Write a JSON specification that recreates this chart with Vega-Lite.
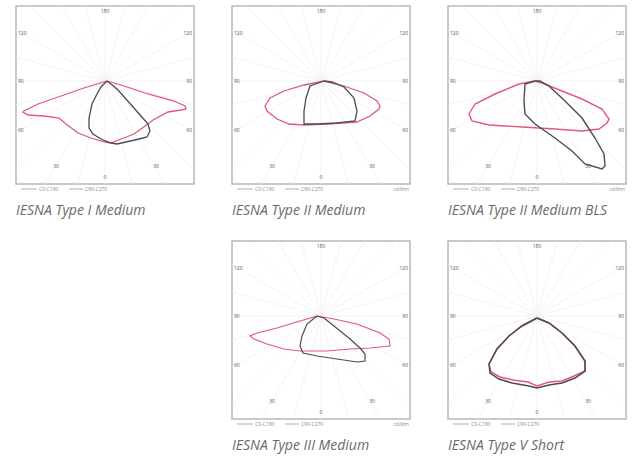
{
  "$schema": "https://vega.github.io/schema/vega-lite/v6.json",
  "padding": {"left": 15, "top": 5, "right": 0, "bottom": 0},
  "background": "white",
  "config": {
    "view": {"stroke": "#b8b8b8", "strokeWidth": 1.5},
    "title": {"orient": "bottom", "anchor": "start", "font": "Open Sans", "fontStyle": "italic", "fontWeight": "normal", "fontSize": 14, "color": "#6a6a6a", "offset": 12}
  },
  "datasets": {
    "grid": [
      {"ox": 0, "oy": 0, "gx": 0, "gy": 150}, {"ox": 0, "oy": 0, "gx": 38.8, "gy": 144.9}, {"ox": 0, "oy": 0, "gx": 75, "gy": 129.9}, {"ox": 0, "oy": 0, "gx": 106.1, "gy": 106.1},
      {"ox": 0, "oy": 0, "gx": 129.9, "gy": 75}, {"ox": 0, "oy": 0, "gx": 144.9, "gy": 38.8}, {"ox": 0, "oy": 0, "gx": 150, "gy": 0}, {"ox": 0, "oy": 0, "gx": 144.9, "gy": -38.8},
      {"ox": 0, "oy": 0, "gx": 129.9, "gy": -75}, {"ox": 0, "oy": 0, "gx": 106.1, "gy": -106.1}, {"ox": 0, "oy": 0, "gx": 75, "gy": -129.9}, {"ox": 0, "oy": 0, "gx": 38.8, "gy": -144.9},
      {"ox": 0, "oy": 0, "gx": 0, "gy": -150}, {"ox": 0, "oy": 0, "gx": -38.8, "gy": -144.9}, {"ox": 0, "oy": 0, "gx": -75, "gy": -129.9}, {"ox": 0, "oy": 0, "gx": -106.1, "gy": -106.1},
      {"ox": 0, "oy": 0, "gx": -129.9, "gy": -75}, {"ox": 0, "oy": 0, "gx": -144.9, "gy": -38.8}, {"ox": 0, "oy": 0, "gx": -150, "gy": 0}, {"ox": 0, "oy": 0, "gx": -144.9, "gy": 38.8},
      {"ox": 0, "oy": 0, "gx": -129.9, "gy": 75}, {"ox": 0, "oy": 0, "gx": -106.1, "gy": 106.1}, {"ox": 0, "oy": 0, "gx": -75, "gy": 129.9}, {"ox": 0, "oy": 0, "gx": -38.8, "gy": 144.9}
    ],
    "labels": [
      {"t": "180", "lx": 0, "ly": 70, "s": "c"},
      {"t": "120", "lx": -87, "ly": 48, "s": "l"},
      {"t": "120", "lx": 87, "ly": 48, "s": "r"},
      {"t": "90", "lx": -87, "ly": 0, "s": "l"},
      {"t": "90", "lx": 87, "ly": 0, "s": "r"},
      {"t": "60", "lx": -87, "ly": -49, "s": "l"},
      {"t": "60", "lx": 87, "ly": -49, "s": "r"},
      {"t": "30", "lx": -49, "ly": -85, "s": "c"},
      {"t": "30", "lx": 51, "ly": -85, "s": "c"},
      {"t": "0", "lx": 0, "ly": -96, "s": "c"}
    ],
    "legend": [
      {"t": "C0-C180", "lx": -66, "ly": -108, "s": "l"},
      {"t": "C90-C270", "lx": -20, "ly": -108, "s": "l"},
      {"t": "cd/klm", "lx": 88, "ly": -108, "s": "r"}
    ],
    "legendLines": [
      {"c": "C0-C180", "a": -84, "b": -68, "ly": -108},
      {"c": "C90-C270", "a": -36, "b": -22, "ly": -108}
    ],
    "curves": [
      {"p": "1", "c": "C0-C180", "i": 0, "x": 2, "y": 0},
      {"p": "1", "c": "C0-C180", "i": 1, "x": -21, "y": -7},
      {"p": "1", "c": "C0-C180", "i": 2, "x": -44, "y": -15},
      {"p": "1", "c": "C0-C180", "i": 3, "x": -67, "y": -23},
      {"p": "1", "c": "C0-C180", "i": 4, "x": -81, "y": -30},
      {"p": "1", "c": "C0-C180", "i": 5, "x": -82, "y": -31},
      {"p": "1", "c": "C0-C180", "i": 6, "x": -77, "y": -34},
      {"p": "1", "c": "C0-C180", "i": 7, "x": -61, "y": -35},
      {"p": "1", "c": "C0-C180", "i": 8, "x": -46, "y": -37},
      {"p": "1", "c": "C0-C180", "i": 9, "x": -39, "y": -43},
      {"p": "1", "c": "C0-C180", "i": 10, "x": -27, "y": -52},
      {"p": "1", "c": "C0-C180", "i": 11, "x": -14, "y": -57},
      {"p": "1", "c": "C0-C180", "i": 12, "x": 0, "y": -61},
      {"p": "1", "c": "C0-C180", "i": 13, "x": 6, "y": -62},
      {"p": "1", "c": "C0-C180", "i": 14, "x": 16, "y": -58},
      {"p": "1", "c": "C0-C180", "i": 15, "x": 29, "y": -53},
      {"p": "1", "c": "C0-C180", "i": 16, "x": 43, "y": -43},
      {"p": "1", "c": "C0-C180", "i": 17, "x": 48, "y": -39},
      {"p": "1", "c": "C0-C180", "i": 18, "x": 63, "y": -31},
      {"p": "1", "c": "C0-C180", "i": 19, "x": 76, "y": -29},
      {"p": "1", "c": "C0-C180", "i": 20, "x": 81, "y": -28},
      {"p": "1", "c": "C0-C180", "i": 21, "x": 80, "y": -25},
      {"p": "1", "c": "C0-C180", "i": 22, "x": 69, "y": -20},
      {"p": "1", "c": "C0-C180", "i": 23, "x": 43, "y": -13},
      {"p": "1", "c": "C0-C180", "i": 24, "x": 16, "y": -4},
      {"p": "1", "c": "C0-C180", "i": 25, "x": 2, "y": 0},

      {"p": "1", "c": "C90-C270", "i": 0, "x": 2, "y": 0},
      {"p": "1", "c": "C90-C270", "i": 1, "x": -4, "y": -6},
      {"p": "1", "c": "C90-C270", "i": 2, "x": -8, "y": -13},
      {"p": "1", "c": "C90-C270", "i": 3, "x": -13, "y": -23},
      {"p": "1", "c": "C90-C270", "i": 4, "x": -16, "y": -37},
      {"p": "1", "c": "C90-C270", "i": 5, "x": -16, "y": -47},
      {"p": "1", "c": "C90-C270", "i": 6, "x": -12, "y": -53},
      {"p": "1", "c": "C90-C270", "i": 7, "x": -4, "y": -58},
      {"p": "1", "c": "C90-C270", "i": 8, "x": 6, "y": -62},
      {"p": "1", "c": "C90-C270", "i": 9, "x": 12, "y": -63},
      {"p": "1", "c": "C90-C270", "i": 10, "x": 21, "y": -61},
      {"p": "1", "c": "C90-C270", "i": 11, "x": 34, "y": -58},
      {"p": "1", "c": "C90-C270", "i": 12, "x": 42, "y": -56},
      {"p": "1", "c": "C90-C270", "i": 13, "x": 45, "y": -50},
      {"p": "1", "c": "C90-C270", "i": 14, "x": 43, "y": -43},
      {"p": "1", "c": "C90-C270", "i": 15, "x": 36, "y": -35},
      {"p": "1", "c": "C90-C270", "i": 16, "x": 29, "y": -27},
      {"p": "1", "c": "C90-C270", "i": 17, "x": 21, "y": -18},
      {"p": "1", "c": "C90-C270", "i": 18, "x": 13, "y": -9},
      {"p": "1", "c": "C90-C270", "i": 19, "x": 6, "y": -3},
      {"p": "1", "c": "C90-C270", "i": 20, "x": 2, "y": 0},

      {"p": "2", "c": "C0-C180", "i": 0, "x": 3, "y": 0},
      {"p": "2", "c": "C0-C180", "i": 1, "x": -17, "y": -4},
      {"p": "2", "c": "C0-C180", "i": 2, "x": -37, "y": -10},
      {"p": "2", "c": "C0-C180", "i": 3, "x": -51, "y": -17},
      {"p": "2", "c": "C0-C180", "i": 4, "x": -56, "y": -25},
      {"p": "2", "c": "C0-C180", "i": 5, "x": -54, "y": -30},
      {"p": "2", "c": "C0-C180", "i": 6, "x": -44, "y": -38},
      {"p": "2", "c": "C0-C180", "i": 7, "x": -32, "y": -43},
      {"p": "2", "c": "C0-C180", "i": 8, "x": -17, "y": -44},
      {"p": "2", "c": "C0-C180", "i": 9, "x": 6, "y": -43},
      {"p": "2", "c": "C0-C180", "i": 10, "x": 36, "y": -41},
      {"p": "2", "c": "C0-C180", "i": 11, "x": 49, "y": -35},
      {"p": "2", "c": "C0-C180", "i": 12, "x": 58, "y": -28},
      {"p": "2", "c": "C0-C180", "i": 13, "x": 59, "y": -25},
      {"p": "2", "c": "C0-C180", "i": 14, "x": 56, "y": -20},
      {"p": "2", "c": "C0-C180", "i": 15, "x": 43, "y": -12},
      {"p": "2", "c": "C0-C180", "i": 16, "x": 23, "y": -5},
      {"p": "2", "c": "C0-C180", "i": 17, "x": 3, "y": 0},

      {"p": "2", "c": "C90-C270", "i": 0, "x": 3, "y": 0},
      {"p": "2", "c": "C90-C270", "i": 1, "x": -11, "y": -5},
      {"p": "2", "c": "C90-C270", "i": 2, "x": -15, "y": -17},
      {"p": "2", "c": "C90-C270", "i": 3, "x": -17, "y": -30},
      {"p": "2", "c": "C90-C270", "i": 4, "x": -17, "y": -43},
      {"p": "2", "c": "C90-C270", "i": 5, "x": -4, "y": -43},
      {"p": "2", "c": "C90-C270", "i": 6, "x": 16, "y": -42},
      {"p": "2", "c": "C90-C270", "i": 7, "x": 34, "y": -40},
      {"p": "2", "c": "C90-C270", "i": 8, "x": 36, "y": -30},
      {"p": "2", "c": "C90-C270", "i": 9, "x": 33, "y": -17},
      {"p": "2", "c": "C90-C270", "i": 10, "x": 23, "y": -6},
      {"p": "2", "c": "C90-C270", "i": 11, "x": 11, "y": -1},
      {"p": "2", "c": "C90-C270", "i": 12, "x": 3, "y": 0},

      {"p": "3", "c": "C0-C180", "i": 0, "x": -2, "y": 0},
      {"p": "3", "c": "C0-C180", "i": 1, "x": -18, "y": -3},
      {"p": "3", "c": "C0-C180", "i": 2, "x": -42, "y": -13},
      {"p": "3", "c": "C0-C180", "i": 3, "x": -62, "y": -23},
      {"p": "3", "c": "C0-C180", "i": 4, "x": -68, "y": -33},
      {"p": "3", "c": "C0-C180", "i": 5, "x": -65, "y": -40},
      {"p": "3", "c": "C0-C180", "i": 6, "x": -48, "y": -44},
      {"p": "3", "c": "C0-C180", "i": 7, "x": -15, "y": -46},
      {"p": "3", "c": "C0-C180", "i": 8, "x": 18, "y": -48},
      {"p": "3", "c": "C0-C180", "i": 9, "x": 45, "y": -50},
      {"p": "3", "c": "C0-C180", "i": 10, "x": 62, "y": -48},
      {"p": "3", "c": "C0-C180", "i": 11, "x": 70, "y": -42},
      {"p": "3", "c": "C0-C180", "i": 12, "x": 72, "y": -38},
      {"p": "3", "c": "C0-C180", "i": 13, "x": 65, "y": -28},
      {"p": "3", "c": "C0-C180", "i": 14, "x": 45, "y": -18},
      {"p": "3", "c": "C0-C180", "i": 15, "x": 25, "y": -10},
      {"p": "3", "c": "C0-C180", "i": 16, "x": 5, "y": -2},
      {"p": "3", "c": "C0-C180", "i": 17, "x": -2, "y": 0},

      {"p": "3", "c": "C90-C270", "i": 0, "x": -2, "y": 0},
      {"p": "3", "c": "C90-C270", "i": 1, "x": -12, "y": -3},
      {"p": "3", "c": "C90-C270", "i": 2, "x": -13, "y": -20},
      {"p": "3", "c": "C90-C270", "i": 3, "x": -12, "y": -33},
      {"p": "3", "c": "C90-C270", "i": 4, "x": -2, "y": -43},
      {"p": "3", "c": "C90-C270", "i": 5, "x": 18, "y": -57},
      {"p": "3", "c": "C90-C270", "i": 6, "x": 35, "y": -70},
      {"p": "3", "c": "C90-C270", "i": 7, "x": 48, "y": -83},
      {"p": "3", "c": "C90-C270", "i": 8, "x": 65, "y": -88},
      {"p": "3", "c": "C90-C270", "i": 9, "x": 68, "y": -85},
      {"p": "3", "c": "C90-C270", "i": 10, "x": 67, "y": -73},
      {"p": "3", "c": "C90-C270", "i": 11, "x": 58, "y": -57},
      {"p": "3", "c": "C90-C270", "i": 12, "x": 45, "y": -37},
      {"p": "3", "c": "C90-C270", "i": 13, "x": 28, "y": -20},
      {"p": "3", "c": "C90-C270", "i": 14, "x": 12, "y": -5},
      {"p": "3", "c": "C90-C270", "i": 15, "x": 3, "y": 0},
      {"p": "3", "c": "C90-C270", "i": 16, "x": -2, "y": 0},

      {"p": "4", "c": "C0-C180", "i": 0, "x": -4, "y": 0},
      {"p": "4", "c": "C0-C180", "i": 1, "x": -21, "y": -5},
      {"p": "4", "c": "C0-C180", "i": 2, "x": -44, "y": -12},
      {"p": "4", "c": "C0-C180", "i": 3, "x": -64, "y": -17},
      {"p": "4", "c": "C0-C180", "i": 4, "x": -71, "y": -20},
      {"p": "4", "c": "C0-C180", "i": 5, "x": -67, "y": -23},
      {"p": "4", "c": "C0-C180", "i": 6, "x": -54, "y": -28},
      {"p": "4", "c": "C0-C180", "i": 7, "x": -37, "y": -33},
      {"p": "4", "c": "C0-C180", "i": 8, "x": -21, "y": -35},
      {"p": "4", "c": "C0-C180", "i": 9, "x": 6, "y": -35},
      {"p": "4", "c": "C0-C180", "i": 10, "x": 29, "y": -33},
      {"p": "4", "c": "C0-C180", "i": 11, "x": 49, "y": -32},
      {"p": "4", "c": "C0-C180", "i": 12, "x": 69, "y": -30},
      {"p": "4", "c": "C0-C180", "i": 13, "x": 68, "y": -23},
      {"p": "4", "c": "C0-C180", "i": 14, "x": 59, "y": -17},
      {"p": "4", "c": "C0-C180", "i": 15, "x": 36, "y": -8},
      {"p": "4", "c": "C0-C180", "i": 16, "x": 13, "y": -3},
      {"p": "4", "c": "C0-C180", "i": 17, "x": -4, "y": 0},

      {"p": "4", "c": "C90-C270", "i": 0, "x": -4, "y": 0},
      {"p": "4", "c": "C90-C270", "i": 1, "x": -14, "y": -8},
      {"p": "4", "c": "C90-C270", "i": 2, "x": -19, "y": -20},
      {"p": "4", "c": "C90-C270", "i": 3, "x": -21, "y": -30},
      {"p": "4", "c": "C90-C270", "i": 4, "x": -18, "y": -37},
      {"p": "4", "c": "C90-C270", "i": 5, "x": -4, "y": -40},
      {"p": "4", "c": "C90-C270", "i": 6, "x": 16, "y": -43},
      {"p": "4", "c": "C90-C270", "i": 7, "x": 36, "y": -46},
      {"p": "4", "c": "C90-C270", "i": 8, "x": 44, "y": -45},
      {"p": "4", "c": "C90-C270", "i": 9, "x": 44, "y": -38},
      {"p": "4", "c": "C90-C270", "i": 10, "x": 39, "y": -32},
      {"p": "4", "c": "C90-C270", "i": 11, "x": 29, "y": -23},
      {"p": "4", "c": "C90-C270", "i": 12, "x": 13, "y": -10},
      {"p": "4", "c": "C90-C270", "i": 13, "x": 3, "y": -2},
      {"p": "4", "c": "C90-C270", "i": 14, "x": -4, "y": 0},

      {"p": "5", "c": "C0-C180", "i": 0, "x": 0, "y": -2},
      {"p": "5", "c": "C0-C180", "i": 1, "x": -15, "y": -10},
      {"p": "5", "c": "C0-C180", "i": 2, "x": -28, "y": -20},
      {"p": "5", "c": "C0-C180", "i": 3, "x": -40, "y": -33},
      {"p": "5", "c": "C0-C180", "i": 4, "x": -48, "y": -48},
      {"p": "5", "c": "C0-C180", "i": 5, "x": -46, "y": -56},
      {"p": "5", "c": "C0-C180", "i": 6, "x": -37, "y": -61},
      {"p": "5", "c": "C0-C180", "i": 7, "x": -24, "y": -64},
      {"p": "5", "c": "C0-C180", "i": 8, "x": -9, "y": -66},
      {"p": "5", "c": "C0-C180", "i": 9, "x": 0, "y": -70},
      {"p": "5", "c": "C0-C180", "i": 10, "x": 12, "y": -66},
      {"p": "5", "c": "C0-C180", "i": 11, "x": 25, "y": -65},
      {"p": "5", "c": "C0-C180", "i": 12, "x": 37, "y": -60},
      {"p": "5", "c": "C0-C180", "i": 13, "x": 48, "y": -55},
      {"p": "5", "c": "C0-C180", "i": 14, "x": 48, "y": -45},
      {"p": "5", "c": "C0-C180", "i": 15, "x": 38, "y": -30},
      {"p": "5", "c": "C0-C180", "i": 16, "x": 25, "y": -17},
      {"p": "5", "c": "C0-C180", "i": 17, "x": 12, "y": -7},
      {"p": "5", "c": "C0-C180", "i": 18, "x": 0, "y": -2},

      {"p": "5", "c": "C90-C270", "i": 0, "x": 0, "y": -2},
      {"p": "5", "c": "C90-C270", "i": 1, "x": -15, "y": -10},
      {"p": "5", "c": "C90-C270", "i": 2, "x": -28, "y": -20},
      {"p": "5", "c": "C90-C270", "i": 3, "x": -40, "y": -33},
      {"p": "5", "c": "C90-C270", "i": 4, "x": -48, "y": -48},
      {"p": "5", "c": "C90-C270", "i": 5, "x": -47, "y": -57},
      {"p": "5", "c": "C90-C270", "i": 6, "x": -38, "y": -63},
      {"p": "5", "c": "C90-C270", "i": 7, "x": -25, "y": -67},
      {"p": "5", "c": "C90-C270", "i": 8, "x": -8, "y": -70},
      {"p": "5", "c": "C90-C270", "i": 9, "x": 0, "y": -72},
      {"p": "5", "c": "C90-C270", "i": 10, "x": 12, "y": -69},
      {"p": "5", "c": "C90-C270", "i": 11, "x": 25, "y": -67},
      {"p": "5", "c": "C90-C270", "i": 12, "x": 38, "y": -62},
      {"p": "5", "c": "C90-C270", "i": 13, "x": 48, "y": -55},
      {"p": "5", "c": "C90-C270", "i": 14, "x": 48, "y": -45},
      {"p": "5", "c": "C90-C270", "i": 15, "x": 38, "y": -30},
      {"p": "5", "c": "C90-C270", "i": 16, "x": 25, "y": -17},
      {"p": "5", "c": "C90-C270", "i": 17, "x": 12, "y": -7},
      {"p": "5", "c": "C90-C270", "i": 18, "x": 0, "y": -2}
    ]
  },
  "columns": 3,
  "spacing": {"row": 57, "column": 38},
  "bounds": "flush",
  "concat": [
    {
      "width": 178, "height": 178,
      "title": "IESNA Type I Medium",
      "layer": [
        {"data": {"name": "grid"}, "mark": {"type": "rule", "color": "#f0f0f0", "strokeWidth": 0.8, "clip": true},
         "encoding": {"x": {"field": "ox", "type": "quantitative", "scale": {"domain": [-89, 89], "nice": false, "zero": false}, "axis": null},
                      "y": {"field": "oy", "type": "quantitative", "scale": {"domain": [-103, 75], "nice": false, "zero": false}, "axis": null},
                      "x2": {"field": "gx"}, "y2": {"field": "gy"}}},
        {"data": {"name": "curves"}, "transform": [{"filter": "datum.p == '1'"}],
         "mark": {"type": "line", "strokeWidth": 1.3},
         "encoding": {"x": {"field": "x", "type": "quantitative", "axis": null},
                      "y": {"field": "y", "type": "quantitative", "axis": null},
                      "order": {"field": "i", "type": "quantitative"},
                      "color": {"field": "c", "type": "nominal", "legend": null, "scale": {"domain": ["C0-C180", "C90-C270"], "range": ["#e35a78", "#4a4a5c"]}}}},
        {"data": {"name": "legendLines"}, "mark": {"type": "rule", "strokeWidth": 0.8, "color": "#9a9a9a"},
         "encoding": {"x": {"field": "a", "type": "quantitative", "axis": null}, "x2": {"field": "b"}, "y": {"field": "ly", "type": "quantitative", "axis": null}}},
        {"data": {"name": "labels"}, "transform": [{"filter": "datum.s == 'l'"}], "mark": {"type": "text", "align": "left", "fontSize": 5, "color": "#555", "font": "Open Sans"},
         "encoding": {"x": {"field": "lx", "type": "quantitative", "axis": null}, "y": {"field": "ly", "type": "quantitative", "axis": null}, "text": {"field": "t", "type": "nominal"}}},
        {"data": {"name": "labels"}, "transform": [{"filter": "datum.s == 'r'"}], "mark": {"type": "text", "align": "right", "fontSize": 5, "color": "#555", "font": "Open Sans"},
         "encoding": {"x": {"field": "lx", "type": "quantitative", "axis": null}, "y": {"field": "ly", "type": "quantitative", "axis": null}, "text": {"field": "t", "type": "nominal"}}},
        {"data": {"name": "labels"}, "transform": [{"filter": "datum.s == 'c'"}], "mark": {"type": "text", "align": "center", "fontSize": 5, "color": "#555", "font": "Open Sans"},
         "encoding": {"x": {"field": "lx", "type": "quantitative", "axis": null}, "y": {"field": "ly", "type": "quantitative", "axis": null}, "text": {"field": "t", "type": "nominal"}}},
        {"data": {"name": "legend"}, "transform": [{"filter": "datum.s == 'l'"}], "mark": {"type": "text", "align": "left", "fontSize": 5, "color": "#888", "font": "Open Sans"},
         "encoding": {"x": {"field": "lx", "type": "quantitative", "axis": null}, "y": {"field": "ly", "type": "quantitative", "axis": null}, "text": {"field": "t", "type": "nominal"}}}
      ]
    },
    {
      "width": 178, "height": 178,
      "title": "IESNA Type II Medium",
      "layer": [
        {"data": {"name": "grid"}, "mark": {"type": "rule", "color": "#f0f0f0", "strokeWidth": 0.8, "clip": true},
         "encoding": {"x": {"field": "ox", "type": "quantitative", "scale": {"domain": [-89, 89], "nice": false, "zero": false}, "axis": null},
                      "y": {"field": "oy", "type": "quantitative", "scale": {"domain": [-103, 75], "nice": false, "zero": false}, "axis": null},
                      "x2": {"field": "gx"}, "y2": {"field": "gy"}}},
        {"data": {"name": "curves"}, "transform": [{"filter": "datum.p == '2'"}],
         "mark": {"type": "line", "strokeWidth": 1.3},
         "encoding": {"x": {"field": "x", "type": "quantitative", "axis": null},
                      "y": {"field": "y", "type": "quantitative", "axis": null},
                      "order": {"field": "i", "type": "quantitative"},
                      "color": {"field": "c", "type": "nominal", "legend": null, "scale": {"domain": ["C0-C180", "C90-C270"], "range": ["#d98a9a", "#55555f"]}}}},
        {"data": {"name": "legendLines"}, "mark": {"type": "rule", "strokeWidth": 0.8, "color": "#9a9a9a"},
         "encoding": {"x": {"field": "a", "type": "quantitative", "axis": null}, "x2": {"field": "b"}, "y": {"field": "ly", "type": "quantitative", "axis": null}}},
        {"data": {"name": "labels"}, "transform": [{"filter": "datum.s == 'l'"}], "mark": {"type": "text", "align": "left", "fontSize": 5, "color": "#555", "font": "Open Sans"},
         "encoding": {"x": {"field": "lx", "type": "quantitative", "axis": null}, "y": {"field": "ly", "type": "quantitative", "axis": null}, "text": {"field": "t", "type": "nominal"}}},
        {"data": {"name": "labels"}, "transform": [{"filter": "datum.s == 'r'"}], "mark": {"type": "text", "align": "right", "fontSize": 5, "color": "#555", "font": "Open Sans"},
         "encoding": {"x": {"field": "lx", "type": "quantitative", "axis": null}, "y": {"field": "ly", "type": "quantitative", "axis": null}, "text": {"field": "t", "type": "nominal"}}},
        {"data": {"name": "labels"}, "transform": [{"filter": "datum.s == 'c'"}], "mark": {"type": "text", "align": "center", "fontSize": 5, "color": "#555", "font": "Open Sans"},
         "encoding": {"x": {"field": "lx", "type": "quantitative", "axis": null}, "y": {"field": "ly", "type": "quantitative", "axis": null}, "text": {"field": "t", "type": "nominal"}}},
        {"data": {"name": "legend"}, "transform": [{"filter": "datum.s == 'l'"}], "mark": {"type": "text", "align": "left", "fontSize": 5, "color": "#888", "font": "Open Sans"},
         "encoding": {"x": {"field": "lx", "type": "quantitative", "axis": null}, "y": {"field": "ly", "type": "quantitative", "axis": null}, "text": {"field": "t", "type": "nominal"}}},
        {"data": {"name": "legend"}, "transform": [{"filter": "datum.s == 'r'"}], "mark": {"type": "text", "align": "right", "fontSize": 5, "color": "#888", "font": "Open Sans"},
         "encoding": {"x": {"field": "lx", "type": "quantitative", "axis": null}, "y": {"field": "ly", "type": "quantitative", "axis": null}, "text": {"field": "t", "type": "nominal"}}}
      ]
    },
    {
      "width": 178, "height": 178,
      "title": "IESNA Type II Medium BLS",
      "layer": [
        {"data": {"name": "grid"}, "mark": {"type": "rule", "color": "#f0f0f0", "strokeWidth": 0.8, "clip": true},
         "encoding": {"x": {"field": "ox", "type": "quantitative", "scale": {"domain": [-89, 89], "nice": false, "zero": false}, "axis": null},
                      "y": {"field": "oy", "type": "quantitative", "scale": {"domain": [-103, 75], "nice": false, "zero": false}, "axis": null},
                      "x2": {"field": "gx"}, "y2": {"field": "gy"}}},
        {"data": {"name": "curves"}, "transform": [{"filter": "datum.p == '3'"}],
         "mark": {"type": "line", "strokeWidth": 1.4},
         "encoding": {"x": {"field": "x", "type": "quantitative", "axis": null},
                      "y": {"field": "y", "type": "quantitative", "axis": null},
                      "order": {"field": "i", "type": "quantitative"},
                      "color": {"field": "c", "type": "nominal", "legend": null, "scale": {"domain": ["C0-C180", "C90-C270"], "range": ["#e35a78", "#4a5068"]}}}},
        {"data": {"name": "legendLines"}, "mark": {"type": "rule", "strokeWidth": 0.8, "color": "#9a9a9a"},
         "encoding": {"x": {"field": "a", "type": "quantitative", "axis": null}, "x2": {"field": "b"}, "y": {"field": "ly", "type": "quantitative", "axis": null}}},
        {"data": {"name": "labels"}, "transform": [{"filter": "datum.s == 'l'"}], "mark": {"type": "text", "align": "left", "fontSize": 5, "color": "#555", "font": "Open Sans"},
         "encoding": {"x": {"field": "lx", "type": "quantitative", "axis": null}, "y": {"field": "ly", "type": "quantitative", "axis": null}, "text": {"field": "t", "type": "nominal"}}},
        {"data": {"name": "labels"}, "transform": [{"filter": "datum.s == 'r'"}], "mark": {"type": "text", "align": "right", "fontSize": 5, "color": "#555", "font": "Open Sans"},
         "encoding": {"x": {"field": "lx", "type": "quantitative", "axis": null}, "y": {"field": "ly", "type": "quantitative", "axis": null}, "text": {"field": "t", "type": "nominal"}}},
        {"data": {"name": "labels"}, "transform": [{"filter": "datum.s == 'c'"}], "mark": {"type": "text", "align": "center", "fontSize": 5, "color": "#555", "font": "Open Sans"},
         "encoding": {"x": {"field": "lx", "type": "quantitative", "axis": null}, "y": {"field": "ly", "type": "quantitative", "axis": null}, "text": {"field": "t", "type": "nominal"}}},
        {"data": {"name": "legend"}, "transform": [{"filter": "datum.s == 'l'"}], "mark": {"type": "text", "align": "left", "fontSize": 5, "color": "#888", "font": "Open Sans"},
         "encoding": {"x": {"field": "lx", "type": "quantitative", "axis": null}, "y": {"field": "ly", "type": "quantitative", "axis": null}, "text": {"field": "t", "type": "nominal"}}},
        {"data": {"name": "legend"}, "transform": [{"filter": "datum.s == 'r'"}], "mark": {"type": "text", "align": "right", "fontSize": 5, "color": "#888", "font": "Open Sans"},
         "encoding": {"x": {"field": "lx", "type": "quantitative", "axis": null}, "y": {"field": "ly", "type": "quantitative", "axis": null}, "text": {"field": "t", "type": "nominal"}}}
      ]
    },
    {
      "width": 178, "height": 178,
      "view": {"stroke": null},
      "data": {"values": [{"t": " "}]},
      "mark": {"type": "text"},
      "encoding": {"text": {"field": "t", "type": "nominal"}}
    },
    {
      "width": 178, "height": 178,
      "title": "IESNA Type III Medium",
      "layer": [
        {"data": {"name": "grid"}, "mark": {"type": "rule", "color": "#f0f0f0", "strokeWidth": 0.8, "clip": true},
         "encoding": {"x": {"field": "ox", "type": "quantitative", "scale": {"domain": [-89, 89], "nice": false, "zero": false}, "axis": null},
                      "y": {"field": "oy", "type": "quantitative", "scale": {"domain": [-103, 75], "nice": false, "zero": false}, "axis": null},
                      "x2": {"field": "gx"}, "y2": {"field": "gy"}}},
        {"data": {"name": "curves"}, "transform": [{"filter": "datum.p == '4'"}],
         "mark": {"type": "line", "strokeWidth": 1.2},
         "encoding": {"x": {"field": "x", "type": "quantitative", "axis": null},
                      "y": {"field": "y", "type": "quantitative", "axis": null},
                      "order": {"field": "i", "type": "quantitative"},
                      "color": {"field": "c", "type": "nominal", "legend": null, "scale": {"domain": ["C0-C180", "C90-C270"], "range": ["#e07a90", "#6a6a72"]}}}},
        {"data": {"name": "legendLines"}, "mark": {"type": "rule", "strokeWidth": 0.8, "color": "#9a9a9a"},
         "encoding": {"x": {"field": "a", "type": "quantitative", "axis": null}, "x2": {"field": "b"}, "y": {"field": "ly", "type": "quantitative", "axis": null}}},
        {"data": {"name": "labels"}, "transform": [{"filter": "datum.s == 'l'"}], "mark": {"type": "text", "align": "left", "fontSize": 5, "color": "#555", "font": "Open Sans"},
         "encoding": {"x": {"field": "lx", "type": "quantitative", "axis": null}, "y": {"field": "ly", "type": "quantitative", "axis": null}, "text": {"field": "t", "type": "nominal"}}},
        {"data": {"name": "labels"}, "transform": [{"filter": "datum.s == 'r'"}], "mark": {"type": "text", "align": "right", "fontSize": 5, "color": "#555", "font": "Open Sans"},
         "encoding": {"x": {"field": "lx", "type": "quantitative", "axis": null}, "y": {"field": "ly", "type": "quantitative", "axis": null}, "text": {"field": "t", "type": "nominal"}}},
        {"data": {"name": "labels"}, "transform": [{"filter": "datum.s == 'c'"}], "mark": {"type": "text", "align": "center", "fontSize": 5, "color": "#555", "font": "Open Sans"},
         "encoding": {"x": {"field": "lx", "type": "quantitative", "axis": null}, "y": {"field": "ly", "type": "quantitative", "axis": null}, "text": {"field": "t", "type": "nominal"}}},
        {"data": {"name": "legend"}, "transform": [{"filter": "datum.s == 'l'"}], "mark": {"type": "text", "align": "left", "fontSize": 5, "color": "#888", "font": "Open Sans"},
         "encoding": {"x": {"field": "lx", "type": "quantitative", "axis": null}, "y": {"field": "ly", "type": "quantitative", "axis": null}, "text": {"field": "t", "type": "nominal"}}},
        {"data": {"name": "legend"}, "transform": [{"filter": "datum.s == 'r'"}], "mark": {"type": "text", "align": "right", "fontSize": 5, "color": "#888", "font": "Open Sans"},
         "encoding": {"x": {"field": "lx", "type": "quantitative", "axis": null}, "y": {"field": "ly", "type": "quantitative", "axis": null}, "text": {"field": "t", "type": "nominal"}}}
      ]
    },
    {
      "width": 178, "height": 178,
      "title": "IESNA Type V Short",
      "layer": [
        {"data": {"name": "grid"}, "mark": {"type": "rule", "color": "#f0f0f0", "strokeWidth": 0.8, "clip": true},
         "encoding": {"x": {"field": "ox", "type": "quantitative", "scale": {"domain": [-89, 89], "nice": false, "zero": false}, "axis": null},
                      "y": {"field": "oy", "type": "quantitative", "scale": {"domain": [-103, 75], "nice": false, "zero": false}, "axis": null},
                      "x2": {"field": "gx"}, "y2": {"field": "gy"}}},
        {"data": {"name": "curves"}, "transform": [{"filter": "datum.p == '5'"}],
         "mark": {"type": "line", "strokeWidth": 1.5},
         "encoding": {"x": {"field": "x", "type": "quantitative", "axis": null},
                      "y": {"field": "y", "type": "quantitative", "axis": null},
                      "order": {"field": "i", "type": "quantitative"},
                      "color": {"field": "c", "type": "nominal", "legend": null, "scale": {"domain": ["C0-C180", "C90-C270"], "range": ["#e35a78", "#2e2e3a"]}}}},
        {"data": {"name": "legendLines"}, "mark": {"type": "rule", "strokeWidth": 0.8, "color": "#9a9a9a"},
         "encoding": {"x": {"field": "a", "type": "quantitative", "axis": null}, "x2": {"field": "b"}, "y": {"field": "ly", "type": "quantitative", "axis": null}}},
        {"data": {"name": "labels"}, "transform": [{"filter": "datum.s == 'l'"}], "mark": {"type": "text", "align": "left", "fontSize": 5, "color": "#555", "font": "Open Sans"},
         "encoding": {"x": {"field": "lx", "type": "quantitative", "axis": null}, "y": {"field": "ly", "type": "quantitative", "axis": null}, "text": {"field": "t", "type": "nominal"}}},
        {"data": {"name": "labels"}, "transform": [{"filter": "datum.s == 'r'"}], "mark": {"type": "text", "align": "right", "fontSize": 5, "color": "#555", "font": "Open Sans"},
         "encoding": {"x": {"field": "lx", "type": "quantitative", "axis": null}, "y": {"field": "ly", "type": "quantitative", "axis": null}, "text": {"field": "t", "type": "nominal"}}},
        {"data": {"name": "labels"}, "transform": [{"filter": "datum.s == 'c'"}], "mark": {"type": "text", "align": "center", "fontSize": 5, "color": "#555", "font": "Open Sans"},
         "encoding": {"x": {"field": "lx", "type": "quantitative", "axis": null}, "y": {"field": "ly", "type": "quantitative", "axis": null}, "text": {"field": "t", "type": "nominal"}}},
        {"data": {"name": "legend"}, "transform": [{"filter": "datum.s == 'l'"}], "mark": {"type": "text", "align": "left", "fontSize": 5, "color": "#888", "font": "Open Sans"},
         "encoding": {"x": {"field": "lx", "type": "quantitative", "axis": null}, "y": {"field": "ly", "type": "quantitative", "axis": null}, "text": {"field": "t", "type": "nominal"}}}
      ]
    }
  ]
}
